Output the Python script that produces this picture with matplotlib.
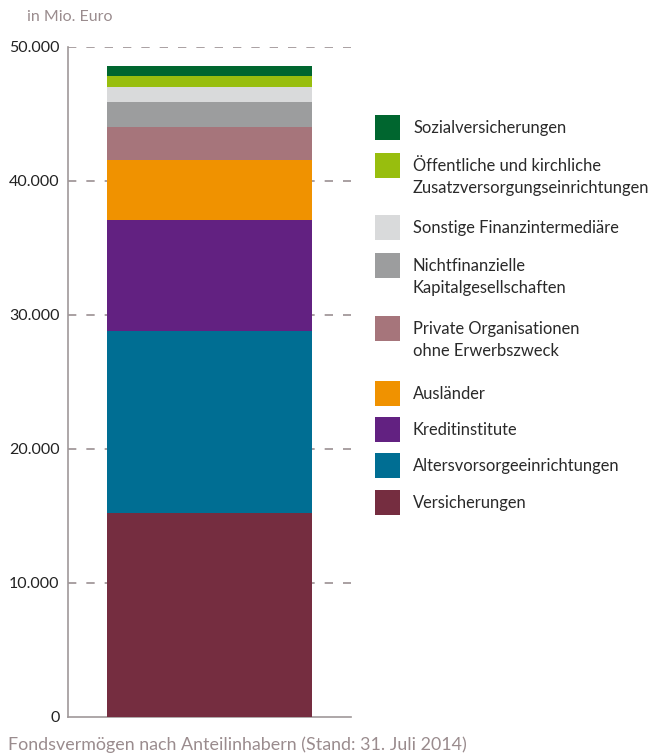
import matplotlib.pyplot as plt
from matplotlib.patches import Rectangle
from matplotlib.ticker import FuncFormatter

plt.rcParams['font.family'] = ['Lato', 'DejaVu Sans']

# Fondsvermögen nach Anteilinhabern, in Mio. Euro (von unten nach oben)
groups = [
    'Versicherungen',
    'Altersvorsorgeeinrichtungen',
    'Kreditinstitute',
    'Ausländer',
    'Private Organisationen\nohne Erwerbszweck',
    'Nichtfinanzielle\nKapitalgesellschaften',
    'Sonstige Finanzintermediäre',
    'Öffentliche und kirchliche\nZusatzversorgungseinrichtungen',
    'Sozialversicherungen',
]
values = [15200, 13580, 8290, 4470, 2460, 1870, 1120, 820, 750]
colors = ['#752d40', '#006e93', '#622181', '#f09200', '#a6757b',
          '#9c9d9e', '#d9dadb', '#98be0e', '#00662f']
yticks = [0, 10000, 20000, 30000, 40000, 50000]

W, H = 655, 756
fig = plt.figure(figsize=(W / 100, H / 100), dpi=100)
ax = fig.add_axes([68 / W, 1 - 716.7 / H, 283 / W, 670 / H])

bottom = 0
for val, col in zip(values, colors):
    ax.bar(0.5, val, width=0.724, bottom=bottom, color=col, linewidth=0, zorder=3)
    bottom += val

ax.set_xlim(0, 1)
ax.set_ylim(0, 50000)
ax.set_xticks([])
ax.set_yticks(yticks)
ax.yaxis.set_major_formatter(FuncFormatter(lambda v, p: f'{int(v):,}'.replace(',', '.')))
ax.tick_params(axis='y', length=0, pad=6, labelsize=11.5, labelcolor='#222222')
for y in yticks[1:]:
    ax.axhline(y, color='#9b9092', lw=1.2, ls=(0, (5, 6)), zorder=1)

for s in ['top', 'right']:
    ax.spines[s].set_visible(False)
for s in ['left', 'bottom']:
    ax.spines[s].set_color('#a09899')
    ax.spines[s].set_linewidth(1.2)

# Legende rechts, Reihenfolge von oben nach unten
lg = fig.add_axes([0, 0, 1, 1])
lg.set_xlim(0, W)
lg.set_ylim(H, 0)
lg.axis('off')
leg_y = [127, 165, 227, 265, 328, 393, 429, 465, 502]
for y, name, col in zip(leg_y, groups[::-1], colors[::-1]):
    lg.add_patch(Rectangle((375, y - 12.5), 25, 25, color=col, lw=0))
    lines = name.split('\n')
    for i, line in enumerate(lines):
        lg.text(413, y + 1 + i * 22, line, fontsize=11.9, color='#2a2a2a', va='center', ha='left')

fig.text(27 / W, 1 - 17 / H, 'in Mio. Euro', fontsize=11.5, color='#9a8c8e', va='center', ha='left')
fig.text(8 / W, 1 - 745 / H, 'Fondsvermögen nach Anteilinhabern (Stand: 31. Juli 2014)',
         fontsize=12.9, color='#9a8c8e', va='center', ha='left')

fig.savefig('out.png', dpi=100)
